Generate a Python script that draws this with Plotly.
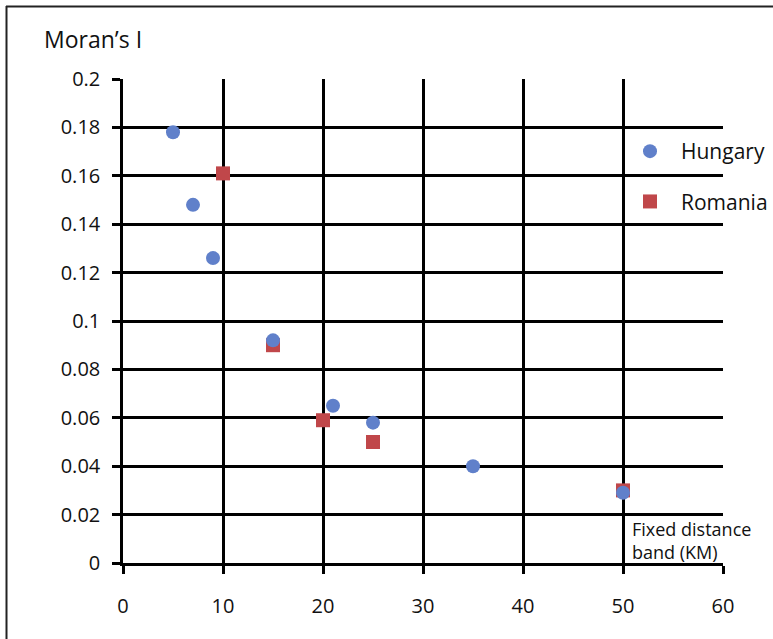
import plotly.graph_objects as go

# Moran's I by fixed distance band
hungary_km = [5, 7, 9, 15, 21, 25, 35, 50]
hungary_i = [0.178, 0.148, 0.126, 0.092, 0.065, 0.058, 0.040, 0.029]

romania_km = [10, 15, 20, 25, 50]
romania_i = [0.161, 0.090, 0.059, 0.050, 0.030]

x_ticks = [0, 10, 20, 30, 40, 50, 60]
y_ticks = [0, 0.02, 0.04, 0.06, 0.08, 0.1, 0.12, 0.14, 0.16, 0.18, 0.2]
y_tick_text = ["0", "0.02", "0.04", "0.06", "0.08", "0.1", "0.12", "0.14", "0.16", "0.18", "0.2"]

FONT = "Open Sans"
TEXT = "#111"
BLUE = "#6080CA"
RED = "#C0474A"

W, H = 773, 639
ML, MR, MT, MB = 123, 50, 79, 76
PW, PH = W - ML - MR, H - MT - MB


def px_x(p):
    return (p - ML) / PW


def px_y(p):
    return (H - MB - p) / PH


fig = go.Figure()

# Romania first so that the Hungary circles sit on top where they overlap
fig.add_trace(go.Scatter(
    x=romania_km, y=romania_i, mode="markers", name="Romania",
    marker=dict(symbol="square", size=14, color=RED),
    legendgroup="ro", legendrank=2, cliponaxis=False,
))
fig.add_trace(go.Scatter(
    x=hungary_km, y=hungary_i, mode="markers", name="Hungary",
    marker=dict(symbol="circle", size=14, color=BLUE),
    legendgroup="hu", legendrank=1, cliponaxis=False,
))

axis_common = dict(
    showgrid=True, gridcolor="black", gridwidth=2.5,
    showline=True, linecolor="black", linewidth=2.5,
    zeroline=False, ticks="outside", ticklen=8, tickwidth=2.5, tickcolor="black",
    tickfont=dict(family=FONT, size=20, color=TEXT),
)

fig.update_xaxes(range=[0, 60], tickvals=x_ticks, ticklabelstandoff=15, **axis_common)
fig.update_yaxes(range=[0, 0.2], tickvals=y_ticks, ticktext=y_tick_text,
                 ticklabelstandoff=8, **axis_common)

# Outer frame of the figure
fig.add_shape(type="line", xref="paper", yref="paper",
              x0=px_x(6), x1=px_x(800), y0=px_y(6.5), y1=px_y(6.5),
              line=dict(color="#222", width=2))
fig.add_shape(type="line", xref="paper", yref="paper",
              x0=px_x(6.5), x1=px_x(6.5), y0=px_y(6), y1=px_y(700),
              line=dict(color="#222", width=2))

fig.add_annotation(text="Moran’s I", xref="paper", yref="paper",
                   x=px_x(42), y=px_y(39), xanchor="left", yanchor="middle",
                   showarrow=False, font=dict(family=FONT, size=23, color=TEXT))
fig.add_annotation(text="Fixed distance<br>band (KM)", xref="paper", yref="paper",
                   x=px_x(630), y=px_y(540), xanchor="left", yanchor="middle", align="left",
                   showarrow=False, font=dict(family=FONT, size=18, color=TEXT))

fig.update_layout(
    width=W, height=H,
    margin=dict(l=ML, r=MR, t=MT, b=MB, autoexpand=False),
    paper_bgcolor="white", plot_bgcolor="white",
    showlegend=True,
    legend=dict(
        x=px_x(619), y=px_y(131), xanchor="left", yanchor="top",
        bgcolor="rgba(0,0,0,0)", traceorder="grouped", tracegroupgap=20,
        font=dict(family=FONT, size=21, color=TEXT),
        itemsizing="trace", itemwidth=52,
    ),
)

fig.write_html("out.html")
